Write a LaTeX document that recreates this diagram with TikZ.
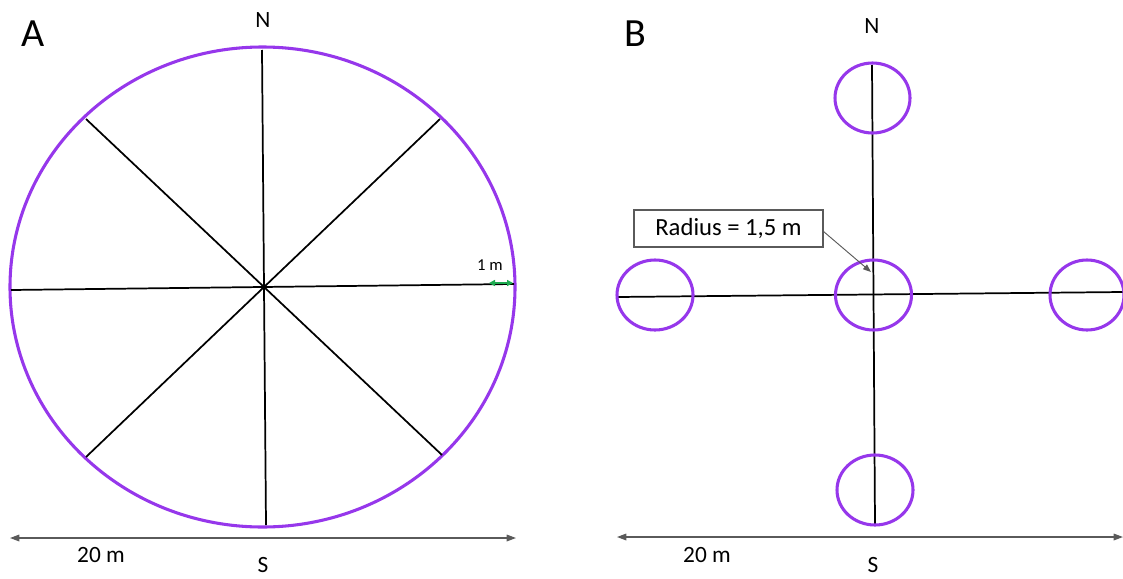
\documentclass[tikz,border=0pt]{standalone}
\usepackage{fontspec}
\setmainfont{Carlito}
\usetikzlibrary{arrows.meta}
\definecolor{plotpurple}{RGB}{150,55,235}
\definecolor{dimgray}{RGB}{90,90,90}
\definecolor{tickgreen}{RGB}{30,170,80}
\begin{document}
\begin{tikzpicture}[x=0.75pt,y=-0.75pt,
  ring/.style={draw=plotpurple,line width=2.3pt},
  axis/.style={draw=black,line width=1.3pt},
  dim/.style={draw=dimgray,line width=0.9pt,{Triangle[length=7pt,width=5pt]}-{Triangle[length=7pt,width=5pt]}},
  lbl/.style={inner sep=0pt,font=\fontsize{17.5}{19}\selectfont},
  panel/.style={inner sep=0pt,font=\fontsize{30}{32}\selectfont}]
\useasboundingbox (0,0) rectangle (1123,578);
% ---------- Panel A ----------
\node[panel] (A) at (33,34) {A};
\draw[ring] (262.5,287) ellipse [x radius=252.5, y radius=240];
\coordinate (aN) at (262,50);
\coordinate (aS) at (266,525);
\coordinate (aW) at (11,290);
\coordinate (aE) at (514,284);
\coordinate (aNW) at (86,119);
\coordinate (aSE) at (442,455);
\coordinate (aNE) at (440,119);
\coordinate (aSW) at (86,457);
\draw[axis] (aN) -- (aS);
\draw[axis] (aW) -- (aE);
\draw[axis] (aNW) -- (aSE);
\draw[axis] (aNE) -- (aSW);
\node[lbl] (NA) at (263,20) {N};
\node[lbl] (SA) at (263,565) {S};
\coordinate (a1l) at (489,283);
\coordinate (a1r) at (513,283);
\draw[draw=tickgreen,line width=1.4pt,{Triangle[length=4.5pt,width=4.5pt]}-{Triangle[length=4.5pt,width=4.5pt]}] (a1l) -- (a1r);
\node[lbl,font=\fontsize{12.5}{14}\selectfont] (onem) at (490,265) {1 m};
\coordinate (dAl) at (10,538);
\coordinate (dAr) at (516,538);
\draw[dim] (dAl) -- (dAr);
\node[lbl] (twA) at (101,555) {20 m};
% ---------- Panel B ----------
\node[panel] (B) at (635,34) {B};
\coordinate (bN) at (872,65);
\coordinate (bS) at (875,525);
\coordinate (bW) at (617,297);
\coordinate (bE) at (1123,292);
\draw[axis] (bN) -- (bS);
\draw[axis] (bW) -- (bE);
\draw[ring] (872.5,98) ellipse [x radius=37.5, y radius=35];
\draw[ring] (873.5,295) ellipse [x radius=38, y radius=35];
\draw[ring] (655,295) ellipse [x radius=38, y radius=35];
\draw[ring] (1087,295) ellipse [x radius=37, y radius=35];
\draw[ring] (875,490) ellipse [x radius=38, y radius=35];
\node[lbl] (NB) at (872,26) {N};
\node[lbl] (SB) at (873,565) {S};
\node[draw=dimgray,line width=0.8pt,fill=white,minimum width=189*0.75pt,minimum height=37*0.75pt,inner sep=0pt,
  font=\fontsize{18.5}{20}\selectfont] (rad) at (728.5,228.5) {Radius = 1,5 m};
\coordinate (radtip) at (871,272);
\draw[draw=dimgray,line width=0.7pt,-{Triangle[length=6pt,width=4.5pt]}] (rad.east) ++(0,3) -- (radtip);
\coordinate (dBl) at (617,537);
\coordinate (dBr) at (1123,537);
\draw[dim] (dBl) -- (dBr);
\node[lbl] (twB) at (707,555) {20 m};
\end{tikzpicture}
\end{document}
